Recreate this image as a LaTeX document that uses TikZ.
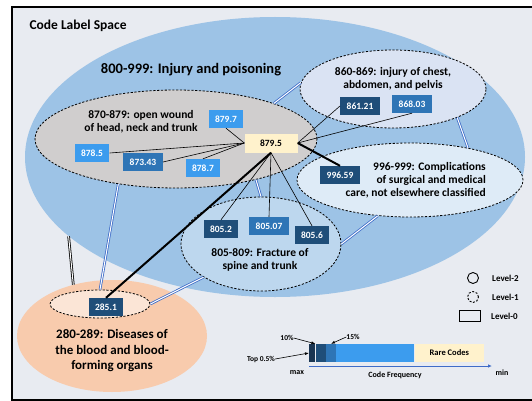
\documentclass[tikz,border=0pt]{standalone}
\usepackage{fontspec}
\setmainfont{Carlito}
\usetikzlibrary{shapes.geometric,arrows.meta}
\definecolor{bgspace}{HTML}{E8EBF1}
\definecolor{injury}{HTML}{9DC3E6}
\definecolor{wound}{HTML}{D0CECE}
\definecolor{chest}{HTML}{DAE3F3}
\definecolor{surg}{HTML}{DEEBF7}
\definecolor{spine}{HTML}{BDD7EE}
\definecolor{blood}{HTML}{F8CBAD}
\definecolor{bloodin}{HTML}{FBE5D6}
\definecolor{codedark}{HTML}{1F4E79}
\definecolor{codemid}{HTML}{2E75B6}
\definecolor{codelight}{HTML}{3C9CEE}
\definecolor{codetop}{HTML}{1A3552}
\definecolor{rare}{HTML}{FFF2CC}
\definecolor{hierblue}{HTML}{3F6CC8}
\tikzset{
  level2/.style={ellipse, inner sep=0pt},
  level1/.style={ellipse, inner sep=0pt, draw, dash pattern=on 2.2pt off 1.6pt, line width=0.8pt},
  code/.style={fill=#1, text=white, font=\fontsize{9.5}{10}\selectfont\bfseries,
    minimum height=18pt, inner xsep=6.5pt, inner ysep=0pt},
  lbl/.style={font=\fontsize{11.5}{13}\selectfont\bfseries, align=center, inner sep=0pt},
  hier/.style={draw=hierblue, double=white, double distance=1pt, line width=0.8pt},
  link/.style={line width=0.6pt},
  strong/.style={line width=2pt},
  seg/.style={fill=#1, minimum height=18pt, inner sep=0pt, anchor=west},
  small/.style={font=\fontsize{8}{9}\selectfont\bfseries, inner sep=0pt},
  pct/.style={font=\fontsize{7.5}{8}\selectfont\bfseries, inner sep=0pt},
  legend/.style={font=\fontsize{9}{10}\selectfont\bfseries, inner sep=0pt, anchor=west},
}
\begin{document}
\begin{tikzpicture}[x=1pt, y=-1pt]
  \useasboundingbox (0,0) rectangle (532,401);
  \begin{scope}
    \clip (0,0) rectangle (532,401);
    \draw[line width=2pt, fill=bgspace] (12,7) rectangle (545,400);
  \end{scope}
  \node[anchor=west, font=\fontsize{13.5}{14}\selectfont\bfseries] (space) at (26,26) {Code Label Space};

  % level-2 and level-1 groups
  \node[level2, fill=injury, minimum width=500pt, minimum height=280pt] (injury) at (275,157) {};
  \node[level2, fill=blood, minimum width=190pt, minimum height=112pt] (blood) at (112,336) {};
  \node[level1, fill=wound, minimum width=282pt, minimum height=98pt] (wound) at (176,139) {};
  \node[level1, fill=chest, minimum width=186pt, minimum height=78pt] (chest) at (393,89) {};
  \node[level1, fill=surg, minimum width=226pt, minimum height=74pt] (surg) at (410,180) {};
  \node[level1, fill=spine, minimum width=160pt, minimum height=94pt] (spine) at (261,244) {};
  \node[level1, fill=bloodin, minimum width=100pt, minimum height=28pt] (bloodin) at (100,304) {};

  % hierarchy links
  \draw[hier] (wound.218) -- (bloodin.90);
  \draw[hier] (wound.-27) -- (spine.90);
  \draw[hier] (wound.20) -- (chest.176);
  \draw[hier] (chest.-24) -- (surg.29);
  \draw[hier] (surg.228) -- (spine.0);
  \draw[hier] (spine.210) -- (bloodin.east);
  \draw[draw=black, double=white, double distance=1pt, line width=0.8pt] (injury.201.5) -- (blood.127);

  % group labels
  \node[font=\fontsize{14.5}{15}\selectfont\bfseries] (injurylbl) at (191,70) {800-999: Injury and poisoning};
  \node[lbl] (woundlbl) at (141,122) {870-879: open wound\\ of head, neck and trunk};
  \node[lbl] (chestlbl) at (393,79) {860-869: injury of chest,\\ abdomen, and pelvis};
  \node[lbl, align=right, anchor=east] (surglbl) at (486,180) {996-999: Complications\\ of surgical and medical\\ care, not elsewhere classified};
  \node[lbl] (spinelbl) at (260,260) {805-809: Fracture of\\ spine and trunk};
  \node[lbl, font=\fontsize{13}{15.5}\selectfont\bfseries] (bloodlbl) at (112,351) {280-289: Diseases of\\ the blood and blood-\\ forming organs};

  % codes
  \node[code=codelight] (c8797) at (226,119) {879.7};
  \node[code=codelight] (c8785) at (92,153) {878.5};
  \node[code=codemid] (c87343) at (143,162) {873.43};
  \node[code=codelight] (c8787) at (203,168) {878.7};
  \node[code=rare, text=black, minimum width=53pt, minimum height=19pt] (c8795) at (271,143) {879.5};
  \node[code=codedark] (c86121) at (360,106) {861.21};
  \node[code=codemid] (c86803) at (412,104) {868.03};
  \node[code=codedark] (c99659) at (340,175) {996.59};
  \node[code=codedark] (c8052) at (221,229) {805.2};
  \node[code=codemid] (c80507) at (269,226) {805.07};
  \node[code=codedark] (c8056) at (312,235) {805.6};
  \node[code=codedark] (c2851) at (106,307) {285.1};

  % co-occurrence links
  \draw[link] (c8795.west) -- (c8797.south);
  \draw[link] (c8795.west) -- (c8785.east);
  \draw[link] (c8795.west) -- (c87343.east);
  \draw[link] (c8795.west) -- (c8787.north);
  \draw[link] (c8795.east) -- (c86121.west);
  \draw[link] (c8795.east) -- (c86803.south);
  \draw[link] (c8795.south) -- (c8052.north);
  \draw[link] (c8795.south) -- (c80507.north);
  \draw[link] (c8795.south) -- (c8056.north);
  \draw[strong] (c8795.east) -- (c99659.north);
  \draw[strong] (c8795.south) -- (c2851.north);

  % legend
  \node[circle, draw, line width=0.9pt, minimum size=11pt, inner sep=0pt] (lev2) at (473,278) {};
  \node[circle, draw, dash pattern=on 2pt off 1.6pt, line width=0.9pt, minimum size=11pt, inner sep=0pt] (lev1) at (473,297) {};
  \node[draw, line width=0.9pt, minimum width=21pt, minimum height=11pt, inner sep=0pt] (lev0) at (469.5,315.5) {};
  \node[legend] (lev2lbl) at (492,278) {Level-2};
  \node[legend] (lev1lbl) at (492,297) {Level-1};
  \node[legend] (lev0lbl) at (491,316) {Level-0};

  % code frequency bar
  \node[seg=codetop, minimum width=6pt] (f0) at (309,353) {};
  \node[seg=codedark, minimum width=10pt] (f1) at (f0.east) {};
  \node[seg=codemid, minimum width=10pt] (f2) at (f1.east) {};
  \node[seg=codelight, minimum width=78pt] (f3) at (f2.east) {};
  \node[seg=rare, minimum width=69pt, font=\fontsize{8.5}{9}\selectfont\bfseries] (f4) at (f3.east) {Rare Codes};
  \coordinate (fmax) at (309,366);
  \coordinate (fmin) at (492,366);
  \draw[hierblue, line width=0.8pt, -{Latex[length=4pt,width=3.5pt]}] (fmax) -- (fmin);
  \node[small] (max) at (297,373) {max};
  \node[small] (min) at (502,373) {min};
  \node[small] (freq) at (395,375) {Code Frequency};
  \node[pct] (p10) at (287,338) {10\%};
  \node[pct] (p15) at (353,337) {15\%};
  \node[pct] (ptop) at (261,359) {Top 0.5\%};
  \draw[line width=0.6pt, -{Latex[length=4pt,width=3pt]}] (p10.east) -- (f1.north west);
  \draw[line width=0.6pt, -{Latex[length=4pt,width=3pt]}] (p15.west) -- (f2.north);
  \draw[line width=0.6pt, -{Latex[length=4pt,width=3pt]}] (ptop.east) -- (f0.west);
\end{tikzpicture}
\end{document}
